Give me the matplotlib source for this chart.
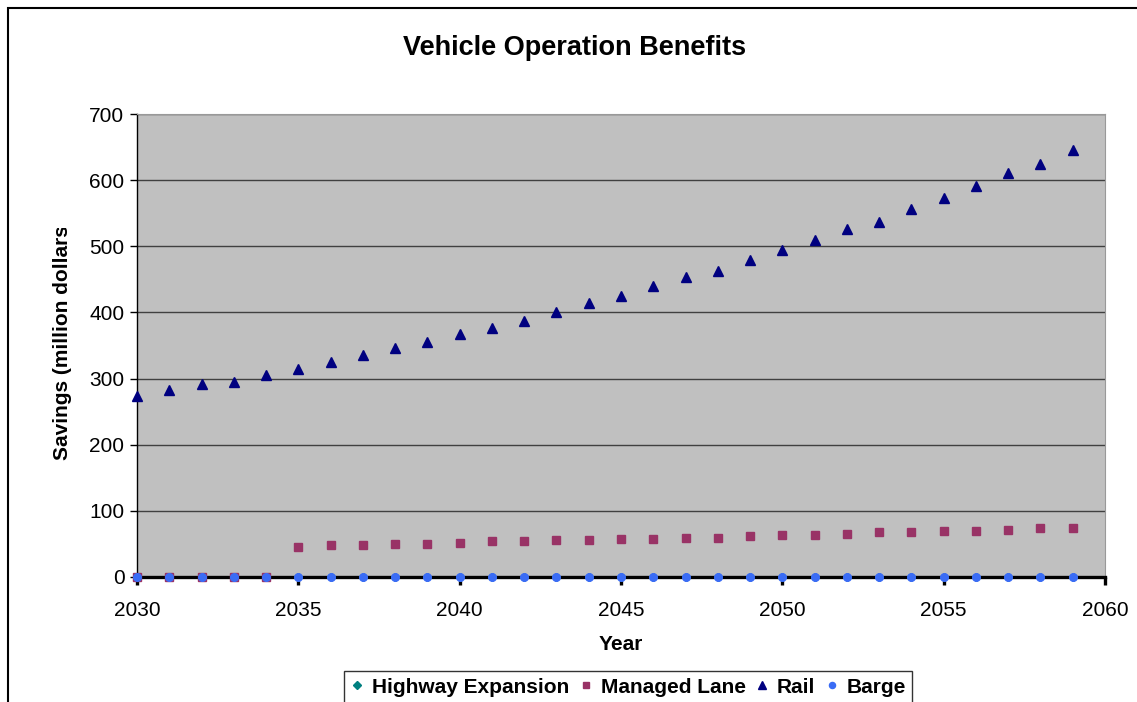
import matplotlib.pyplot as plt
from matplotlib.patches import Rectangle
from matplotlib.transforms import Bbox

plt.rcParams['font.family'] = ['Liberation Sans', 'DejaVu Sans']

years = list(range(2030, 2060))
highway = [0] * 30
managed = [0, 0, 0, 0, 0,
           46, 48, 48, 50, 50, 52, 54, 54, 56, 56, 57.5, 57.5, 59.5, 59.5, 61.5,
           63.5, 63.5, 65.5, 67.5, 67.5, 69.5, 69.5, 71.5, 73.5, 73.5]
rail = [273, 282, 292, 295, 305, 315, 325, 335, 346, 356,
        368, 376, 387, 400, 414, 425, 440, 453, 463, 479,
        494, 510, 526, 537, 556, 573, 591, 611, 625, 645]
barge = [0] * 30

W, H = 1137, 702
fig = plt.figure(figsize=(W / 100, H / 100), dpi=100)
ax = fig.add_axes([137 / W, 1 - 577 / H, (1105 - 137) / W, (577 - 114) / H])
ax.set_facecolor('#c0c0c0')

# outer chart frame (runs off the right and bottom edges)
fig.patches.append(Rectangle((8 / W, -0.1), 1.2, 1 - 8 / H + 0.1,
                             transform=fig.transFigure, fill=False,
                             edgecolor='black', linewidth=1.5, zorder=0))

ax.plot(years, highway, linestyle='none', marker='D', markersize=4.5,
        color='#008080', label='Highway Expansion', clip_on=False, zorder=3)
ax.plot(years, managed, linestyle='none', marker='s', markersize=5.5,
        color='#993366', label='Managed Lane', clip_on=False, zorder=4)
ax.plot(years, rail, linestyle='none', marker='^', markersize=7.5,
        color='#000080', label='Rail', clip_on=False, zorder=5)
ax.plot(years, barge, linestyle='none', marker='o', markersize=5.5,
        color='#3a6cf5', label='Barge', clip_on=False, zorder=6)

ax.set_xlim(2030, 2060)
ax.set_ylim(0, 700)
ax.set_xticks(range(2030, 2061, 5))
ax.set_yticks(range(0, 701, 100))
ax.grid(axis='y', color='#404040', linewidth=1)
ax.set_axisbelow(True)

ax.spines['top'].set_color('#999999')
ax.spines['right'].set_color('#999999')
ax.spines['left'].set_color('black')
ax.spines['bottom'].set_color('black')
ax.spines['bottom'].set_linewidth(2.4)
ax.spines['left'].set_linewidth(1)

ax.tick_params(axis='x', direction='out', length=6, width=2.4,
               labelsize=15, pad=11)
ax.tick_params(axis='y', direction='out', length=5, width=1,
               labelsize=15, pad=4)

ax.set_xlabel('Year', fontsize=15, fontweight='bold', labelpad=11)

# axis title is cut off at the top by the chart area
ylab = fig.text(62 / W, 1 - 339 / H, 'Savings (million dollars)',
                rotation=90, ha='center', va='center',
                fontsize=15, fontweight='bold')
ylab.set_clip_box(Bbox.from_extents(0, 0, W, H - 228))
ylab.set_clip_on(True)

fig.text(575 / W, 1 - 48 / H, 'Vehicle Operation Benefits',
         ha='center', va='center', fontsize=19.5, fontweight='bold')

leg = fig.legend(loc='upper center', bbox_to_anchor=(628 / W, 1 - 661 / H),
                 ncol=4, frameon=True, fancybox=False, shadow=False,
                 prop={'weight': 'bold', 'size': 15},
                 handlelength=0.7, handletextpad=0.35, columnspacing=0.45,
                 borderpad=0.3, markerscale=0.8)
leg.get_frame().set_edgecolor('black')
leg.get_frame().set_linewidth(1)

fig.savefig('out.png', dpi=100)
